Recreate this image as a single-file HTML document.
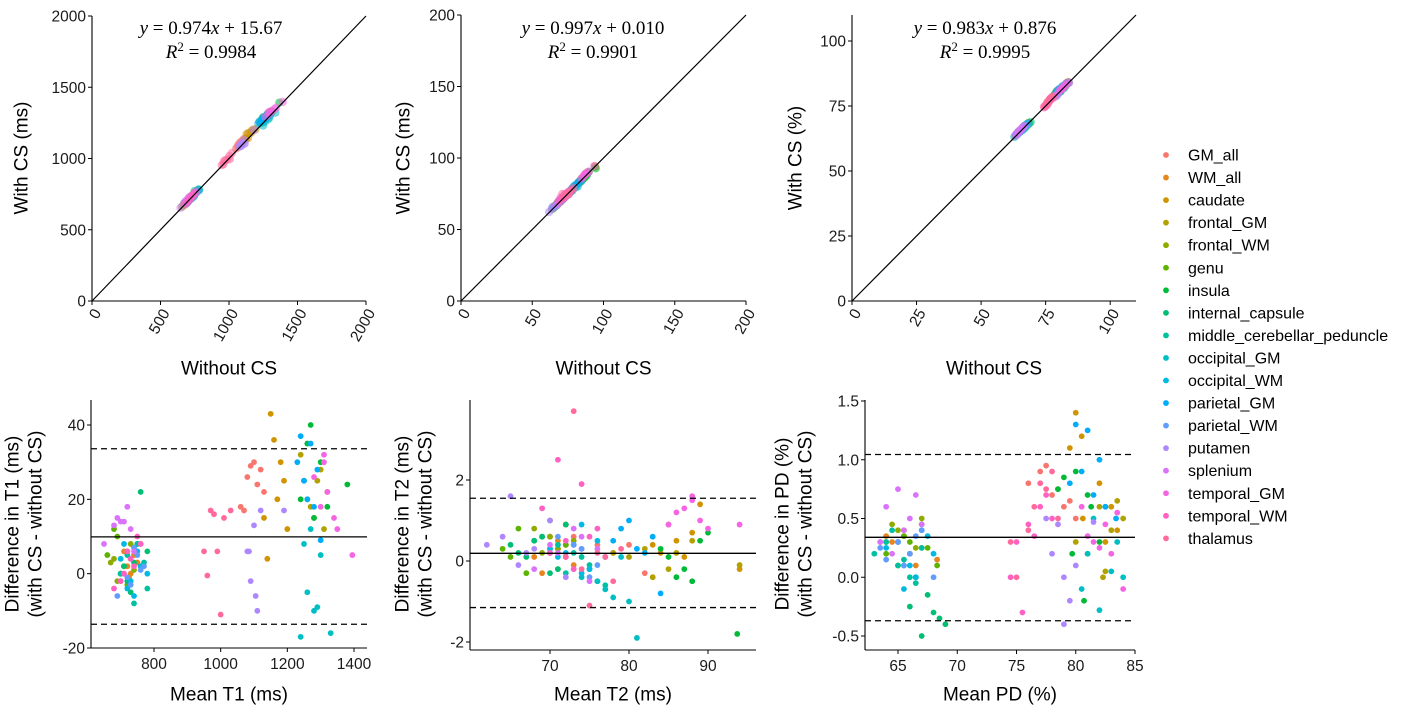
<!DOCTYPE html>
<html><head><meta charset="utf-8">
<style>
html,body{margin:0;padding:0;background:#fff;}
svg{display:block;font-family:"Liberation Sans",Arial,sans-serif;}
</style></head>
<body>
<svg id="chart" width="1425" height="719" viewBox="0 0 1425 719" xmlns="http://www.w3.org/2000/svg"></svg>
<script>
const regions=["GM_all","WM_all","caudate","frontal_GM","frontal_WM","genu","insula","internal_capsule","middle_cerebellar_peduncle","occipital_GM","occipital_WM","parietal_GM","parietal_WM","putamen","splenium","temporal_GM","temporal_WM","thalamus"];
const colors=["#F8766D","#E7851E","#D09400","#B2A100","#8EAB00","#5EB300","#00BA38","#00BF74","#00C19F","#00BFC4","#00B9E3","#00ADFA","#619CFF","#AE87FF","#DB72FB","#F564E3","#FF61C3","#FF699C"];

const t1Mean=[[1080,1100,1120,1060,1110,1090,1130,1070],[720,740,700,760,730,750,710,725],[1150,1170,1190,1130,1160,1200,1180,1140],[1260,1280,1300,1240,1320,1270,1290,1310],[680,700,720,690,710,730,670,740],[690,710,660,720,740,700,680,730],[1270,1250,1300,1280,1260,1240,1380,1320],[720,740,760,700,780,730,750,710],[740,760,720,780,700,750,730,770],[1240,1260,1280,1300,1290,1250,1330,1270],[720,760,740,700,780,750,730,710],[1230,1250,1270,1290,1260,1280,1240,1300],[710,730,750,770,690,740,760,720],[1080,1090,1100,1110,1120,1085,1105,1190],[700,720,680,740,690,730,710,650],[1280,1300,1320,1340,1310,1350,1395,1310],[700,720,740,760,680,730,710,750],[960,980,1000,950,1030,970,990,1010]];
const t1Diff=[[26,30,28,18,24,29,22,17],[2,5,-2,8,0,3,6,-1],[43,20,25,15,36,12,30,4],[20,15,28,32,22,18,25,12],[4,0,6,-2,2,8,3,1],[10,2,5,-3,7,0,12,4],[40,25,30,15,35,20,24,18],[-2,3,22,0,6,-5,8,2],[-8,2,5,-4,0,8,-2,3],[-17,-5,-10,5,-9,8,-16,12],[-4,2,-6,4,0,6,-2,8],[30,25,35,28,20,18,37,9],[0,-3,5,2,-6,7,1,-1],[6,-2,13,-10,17,6,-6,17],[14,18,13,6,15,12,14,8],[26,18,22,15,30,12,5,32],[-2,6,2,8,-4,4,0,10],[-0.5,16,-11,6,17,17,6,15]];

const t2Mean=[[74,76,78,72,75,80,73,82],[70,71,69,72,68,73,70,71],[84,86,88,85,94,87,83,89],[80,82,85,88,94,86,83,78],[70,71,72,69,73,68,71,72],[64,66,68,70,72,67,65,69],[86,88,90,93.7,84,87,85,89],[66,68,70,72,67,69,71,65],[72,74,76,73,75,71,77,70],[76,78,80,75,77,79,74,81],[72,74,73,71,75,70,76,74],[78,80,82,79,84,81,77,83],[72,73,74,71,75,70,76,73],[62,64,66,68,70,72,65,67],[70,72,74,76,68,73,71,75],[86,88,90,87,89,94,85,88],[70,72,74,76,71,73,75,69],[75,77,73,79,74,76,78,72]];
const t2Diff=[[0.3,0.4,0.2,0.9,-0.2,0.4,0.6,-0.3],[0.2,0.5,-0.3,0.4,0.1,-0.1,0.6,0.3],[0.2,0.5,0.7,0.9,-0.2,0.1,0.4,1.4],[0.1,0.3,-0.2,0.5,-0.1,0.2,-0.4,0.2],[0.6,0.3,0.9,0.2,0.5,0.8,-0.2,0.4],[0.3,0.8,0.5,1.0,0.4,-0.3,0.1,0.6],[-0.4,-0.5,0.7,-1.8,0.3,-0.2,0.1,0.5],[0.2,0.5,-0.3,0.9,0.1,0.6,-0.2,0.4],[-0.3,0.1,-0.5,0.2,-0.1,0.4,-0.6,0.3],[-0.5,-0.9,-1.0,-0.2,-0.7,0.1,-0.4,-1.9],[0.2,-0.3,0.4,0.1,-0.2,0.3,0.5,0.9],[0.5,1.0,0.2,0.8,-0.8,0.3,0.1,0.6],[0.1,-0.2,0.3,0.6,-0.4,0.2,-0.1,0.4],[0.4,0.6,-0.1,0.3,1.0,-0.4,1.6,0.2],[0.4,0.1,0.6,0.3,-0.2,0.8,0.2,-0.5],[1.2,1.5,0.8,1.3,1.0,0.9,0.9,1.6],[0.2,0.5,1.9,0.8,2.5,-0.2,0.6,1.3],[-1.1,0.1,3.7,0.3,-0.2,0.2,-0.5,0.1]];

const pdMean=[[77,78,79,80,76,77.5,78.5,79.5],[65,66,64,67,65.5,66.5,64.5,68.3],[80,80.5,82,83,80.6,82.5,79.5,83.5],[82,83,81,84,82.5,83.5,80,82.3],[64,65,66,67,65.5,66.5,64.5,63.5],[65,66,67,64,66.5,65.5,67.5,68.3],[79,80,81,80.7,79.7,81.3,78.5,82],[66,67,68,69,67.5,66.5,68.5,65.5],[63,64,65,66,67,64.5,65.5,66.5],[81,82,83,84,82.5,83.5,80.5,81.5],[65,66,67,68,66.5,67.5,65.5,64],[80,81,82,81.5,80.5,82.5,79.5,83.4],[64,65,66,67,65.5,66.5,63.5,68],[78,79,80,78.5,79.5,77.5,81.5,79],[64,65,66,63.5,65.5,66.5,64.5,67],[81,82,83,82.5,81.5,83.5,80.5,84],[75,76,77,78,76.5,77.5,74.5,75.5],[75,76,77,78,74.5,76.5,77.5,78.5]];
const pdDiff=[[0.9,0.7,0.6,0.5,0.8,0.95,0.75,0.65],[0.3,0.2,0.35,0.25,0.4,0.1,0.3,0.15],[1.4,1.2,0.8,0.6,0.5,0.3,1.1,0.4],[0.6,0.4,0.2,0.5,0.05,0.65,0.3,0.0],[0.3,0.4,0.2,0.5,0.35,0.25,0.45,0.3],[0.1,0.3,0.45,0.2,0.0,0.35,0.25,0.1],[0.85,0.9,0.7,-0.2,0.2,0.6,0.75,0.3],[-0.25,-0.5,-0.3,-0.4,-0.15,0.0,-0.35,0.1],[0.2,0.3,0.1,0.0,0.25,0.4,0.15,-0.05],[0.2,-0.28,0.05,0.0,0.6,0.3,-0.1,0.5],[0.3,0.1,0.4,0.2,0.0,0.35,-0.1,0.25],[1.3,1.25,1.0,0.7,0.9,0.6,0.8,0.5],[0.15,0.3,0.2,0.4,0.1,0.35,0.25,0.0],[0.2,-0.4,0.1,0.45,-0.2,0.5,0.47,0.0],[0.6,0.75,0.5,0.3,0.4,0.7,0.2,0.45],[0.35,0.25,0.2,0.45,0.3,0.55,0.6,-0.1],[0.3,0.45,0.6,0.5,0.35,0.7,0.0,-0.3],[0.0,0.4,0.8,0.9,0.3,0.6,0.75,0.5]];

const t1Ticks=[0,500,1000,1500,2000];
const t2Ticks=[0,50,100,150,200];
const pdTicks=[0,25,50,75,100];
const baT1X=[800,1000,1200,1400], baT1Y=[-20,0,20,40];
const baT2X=[70,80,90], baT2Y=[-2,0,2];
const baPdX=[65,70,75,80,85], baPdY=["-0.5","0.0","0.5","1.0","1.5"];
const eqs=[["0.974","15.67","0.9984"],["0.997","0.010","0.9901"],["0.983","0.876","0.9995"]];
const baLimits=[[9.9,33.6,-13.6],[0.19,1.55,-1.15],[0.34,1.045,-0.37]];

const svg=document.getElementById('chart');
const NS="http://www.w3.org/2000/svg";
function mk(tag,attrs,parent){const e=document.createElementNS(NS,tag);for(const k in attrs)e.setAttribute(k,attrs[k]);(parent||svg).appendChild(e);return e;}
function lin(d0,d1,r0,r1){return v=>r0+(v-d0)*(r1-r0)/(d1-d0);}

function axes(g,x0,x1,y0,y1){
  const a=mk('line',{x1:x0,y1:y0,x2:x0,y2:y1,stroke:'#000','stroke-width':1.1},g);
  
  
  const b=mk('line',{x1:x0,y1:y0,x2:x1,y2:y0,stroke:'#000','stroke-width':1.1},g);
  
  
}
function yTicks(g,ticks,ys,ax){
  ticks.forEach(t=>{const y=ys(+t);
    mk('line',{x1:ax-4,y1:y,x2:ax,y2:y,stroke:'#000'},g);
    const tx=mk('text',{x:ax-6,y:y+5.5,'text-anchor':'end','font-size':15.5,fill:'#1a1a1a'},g);
    tx.textContent=t;
    
    
  });
}
function xTicks(g,ticks,xs,ay,rot){
  ticks.forEach(t=>{const x=xs(+t);
    mk('line',{x1:x,y1:ay,x2:x,y2:ay+4,stroke:'#000'},g);
    let tx;
    if(rot){tx=mk('text',{x:x+5,y:ay+9,'text-anchor':'end','font-size':15.5,fill:'#1a1a1a',transform:`rotate(-60 ${x+5} ${ay+9})`,dy:'0.35em'},g);}
    else{tx=mk('text',{x:x,y:ay+21,'text-anchor':'middle','font-size':15.5,fill:'#1a1a1a'},g);}
    tx.textContent=t;
    
    
  });
}
function title(g,txt,x,y,rot,name){
  const t=mk('text',{x:x,y:y,'text-anchor':'middle','font-size':19,fill:'#000','dominant-baseline':'central'},g);
  if(rot)t.setAttribute('transform',`rotate(-90 ${x} ${y})`);
  t.textContent=txt;
  
  
}

function topPanel(name,means,diffs,xd,xr,yd,yr,ticks,ylab,ylabX,eq,eqX){
  const g=mk('g',{});
  
  
  const xs=lin(xd[0],xd[1],xr[0],xr[1]), ys=lin(yd[0],yd[1],yr[0],yr[1]);
  means.forEach((arr,ri)=>arr.forEach((m,i)=>{
    const d=diffs[ri][i];
    const c=mk('circle',{cx:xs(m-d/2),cy:ys(m+d/2),r:4.2,fill:colors[ri],'fill-opacity':0.55},g);
    
    
  }));
  const l=mk('line',{x1:xs(xd[0]),y1:ys(xd[0]),x2:xs(xd[1]),y2:ys(xd[1]),stroke:'#000','stroke-width':1.2},g);
  
  
  axes(g,xr[0],xr[1],yr[0],yr[1]);
  yTicks(g,ticks,ys,xr[0]);
  xTicks(g,ticks,xs,yr[0],true);
  title(g,ylab,ylabX,158,true,'y-axis-title');
  title(g,'Without CS',(xr[0]+xr[1])/2,369,false,'x-axis-title');
  const e1=mk('text',{x:eqX,y:34,'text-anchor':'middle','font-size':19,'font-family':'"Liberation Serif",serif'},g);
  e1.innerHTML=`<tspan font-style="italic">y</tspan> = ${eq[0]}<tspan font-style="italic">x</tspan> + ${eq[1]}`;
  
  
  const e2=mk('text',{x:eqX,y:58,'text-anchor':'middle','font-size':19,'font-family':'"Liberation Serif",serif'},g);
  e2.innerHTML=`<tspan font-style="italic">R</tspan><tspan font-size="13" dy="-7">2</tspan><tspan dy="7"> = ${eq[2]}</tspan>`;
  
  
}

// ext = [axisLeft, axisRight, axisBottom, axisTop]
function baPanel(name,means,diffs,xd,xr,yd,yr,ext,xt,yt,lims,l1,tx,xlab){
  const g=mk('g',{});
  
  
  const xs=lin(xd[0],xd[1],xr[0],xr[1]), ys=lin(yd[0],yd[1],yr[0],yr[1]);
  means.forEach((arr,ri)=>arr.forEach((m,i)=>{
    const c=mk('circle',{cx:xs(m),cy:ys(diffs[ri][i]),r:2.9,fill:colors[ri]},g);
    
    
  }));
  lims.forEach((v,k)=>{
    const ln=mk('line',{x1:ext[0],x2:ext[1],y1:ys(v),y2:ys(v),stroke:'#000','stroke-width':1.3},g);
    if(k>0)ln.setAttribute('stroke-dasharray','6,4');
    
    
  });
  axes(g,ext[0],ext[1],ext[2],ext[3]);
  yTicks(g,yt,ys,ext[0]);
  xTicks(g,xt,xs,ext[2],false);
  title(g,l1,tx[0],524,true,'y-axis-title');
  title(g,'(with CS - without CS)',tx[1],524,true,'y-axis-title-line2');
  title(g,xlab,(ext[0]+ext[1])/2,695,false,'x-axis-title');
}

topPanel('t1-scatter-panel',t1Mean,t1Diff,[0,2000],[92,366],[0,2000],[301,16],t1Ticks,'With CS (ms)',22,eqs[0],211);
topPanel('t2-scatter-panel',t2Mean,t2Diff,[0,200],[461,746],[0,200],[301,15],t2Ticks,'With CS (ms)',404,eqs[1],593);
topPanel('pd-scatter-panel',pdMean,pdDiff,[0,110],[852,1136],[0,110],[301,15],pdTicks,'With CS (%)',796,eqs[2],985);

baPanel('t1-bland-altman-panel',t1Mean,t1Diff,[800,1400],[154,354],[-20,40],[648,425],[91,367,648,400],baT1X,baT1Y,baLimits[0],'Difference in T1 (ms)',[13,36],'Mean T1 (ms)');
baPanel('t2-bland-altman-panel',t2Mean,t2Diff,[70,90],[550,708],[-2,2],[642,480],[470,756,650,400],baT2X,baT2Y,baLimits[1],'Difference in T2 (ms)',[403,426],'Mean T2 (ms)');
baPanel('pd-bland-altman-panel',pdMean,pdDiff,[65,85],[898,1135],[-0.5,1.5],[636,401],[865,1135,650,400],baPdX,baPdY,baLimits[2],'Difference in PD (%)',[783,806],'Mean PD (%)');
</script>
<script>
(function(){
  const g=document.createElementNS(NS,'g');
  
  
  svg.appendChild(g);
  regions.forEach((r,i)=>{
    const y=155+i*22.55;
    const c=document.createElementNS(NS,'circle');
    c.setAttribute('cx',1166);c.setAttribute('cy',y);c.setAttribute('r',2.9);c.setAttribute('fill',colors[i]);
    
    
    g.appendChild(c);
    const t=document.createElementNS(NS,'text');
    t.setAttribute('x',1188);t.setAttribute('y',y+5.5);t.setAttribute('font-size',16);t.setAttribute('fill','#000');
    t.textContent=r;
    
    
    g.appendChild(t);
  });
})();
</script>
</body></html>
